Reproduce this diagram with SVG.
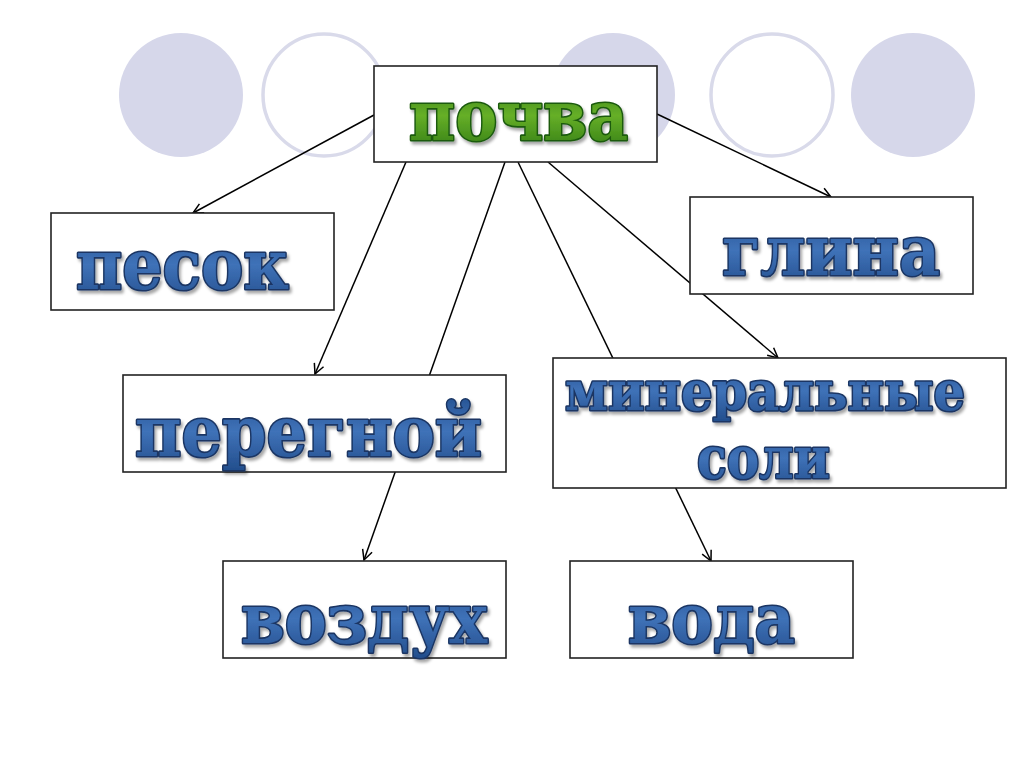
<svg xmlns="http://www.w3.org/2000/svg" width="1024" height="767" viewBox="0 0 1024 767">
<defs>
<style>
.dot{fill:#D6D7EA;}
.ring{fill:none;stroke:#D9DAEA;stroke-width:3.5;}
.box{fill:#FFFFFF;stroke:#222222;stroke-width:1.6;}
.lbl{font-family:"DejaVu Serif","Liberation Serif",serif;font-weight:bold;stroke-width:3.2;stroke-linejoin:round;paint-order:stroke;filter:url(#sh);}
.blue{fill:url(#gb);stroke:#1A3563;}
.green{fill:url(#gg);stroke:#1A5A0E;}
.con{fill:none;stroke:#000000;stroke-width:1.5;marker-end:url(#ah);}
</style>
<linearGradient id="gb" x1="0" y1="0" x2="0" y2="1">
<stop offset="0" stop-color="#244F8E"/>
<stop offset="0.5" stop-color="#3F72B8"/>
<stop offset="1" stop-color="#214C8A"/>
</linearGradient>
<linearGradient id="gg" x1="0" y1="0" x2="0" y2="1">
<stop offset="0" stop-color="#2C7812"/>
<stop offset="0.5" stop-color="#66AF28"/>
<stop offset="1" stop-color="#2B7511"/>
</linearGradient>
<filter id="sh" x="-10%" y="-20%" width="120%" height="140%">
<feDropShadow dx="2" dy="3" stdDeviation="1.5" flood-color="#000000" flood-opacity="0.35"/>
</filter>
<marker id="ah" viewBox="0 0 12 12" refX="11" refY="6" markerWidth="12" markerHeight="12" markerUnits="userSpaceOnUse" orient="auto">
<path d="M1,1 L11,6 L1,11" fill="none" stroke="#000000" stroke-width="1.5"/>
</marker>
</defs>
<rect width="1024" height="767" fill="#FFFFFF"/>
<g id="decor">
<circle class="dot" cx="181" cy="95" r="62"/>
<circle class="ring" cx="324" cy="95" r="61"/>
<circle class="dot" cx="613" cy="95" r="62"/>
<circle class="ring" cx="772" cy="95" r="61"/>
<circle class="dot" cx="913" cy="95" r="62"/>
</g>
<g id="connectors">
<line class="con" x1="374" y1="115" x2="193" y2="213"/>
<line class="con" x1="657" y1="114" x2="831" y2="197"/>
<line class="con" x1="406" y1="162" x2="315" y2="374"/>
<line class="con" x1="505" y1="162" x2="364" y2="560"/>
<line class="con" x1="518" y1="162" x2="711" y2="561"/>
<line class="con" x1="548" y1="162" x2="778" y2="358"/>
</g>
<g id="pochva">
<rect class="box" x="374" y="66" width="283" height="96"/>
<text class="lbl green" x="409" y="140" font-size="70" textLength="219" lengthAdjust="spacingAndGlyphs">почва</text>
</g>
<g id="pesok">
<rect class="box" x="51" y="213" width="283" height="97"/>
<text class="lbl blue" x="76" y="289" font-size="70" textLength="213" lengthAdjust="spacingAndGlyphs">песок</text>
</g>
<g id="glina">
<rect class="box" x="690" y="197" width="283" height="97"/>
<text class="lbl blue" x="722" y="275" font-size="70" textLength="218" lengthAdjust="spacingAndGlyphs">глина</text>
</g>
<g id="peregnoy">
<rect class="box" x="123" y="375" width="383" height="97"/>
<text class="lbl blue" x="135" y="456" font-size="70" textLength="347" lengthAdjust="spacingAndGlyphs">перегной</text>
</g>
<g id="mineralnye">
<rect class="box" x="553" y="358" width="453" height="130"/>
<text class="lbl blue" x="565" y="410" font-size="54" textLength="400" lengthAdjust="spacingAndGlyphs">минеральные</text>
<text class="lbl blue" x="697" y="478" font-size="58" textLength="133" lengthAdjust="spacingAndGlyphs">соли</text>
</g>
<g id="vozduh">
<rect class="box" x="223" y="561" width="283" height="97"/>
<text class="lbl blue" x="241" y="643" font-size="70" textLength="246" lengthAdjust="spacingAndGlyphs">воздух</text>
</g>
<g id="voda">
<rect class="box" x="570" y="561" width="283" height="97"/>
<text class="lbl blue" x="628" y="643" font-size="70" textLength="167" lengthAdjust="spacingAndGlyphs">вода</text>
</g>
</svg>
